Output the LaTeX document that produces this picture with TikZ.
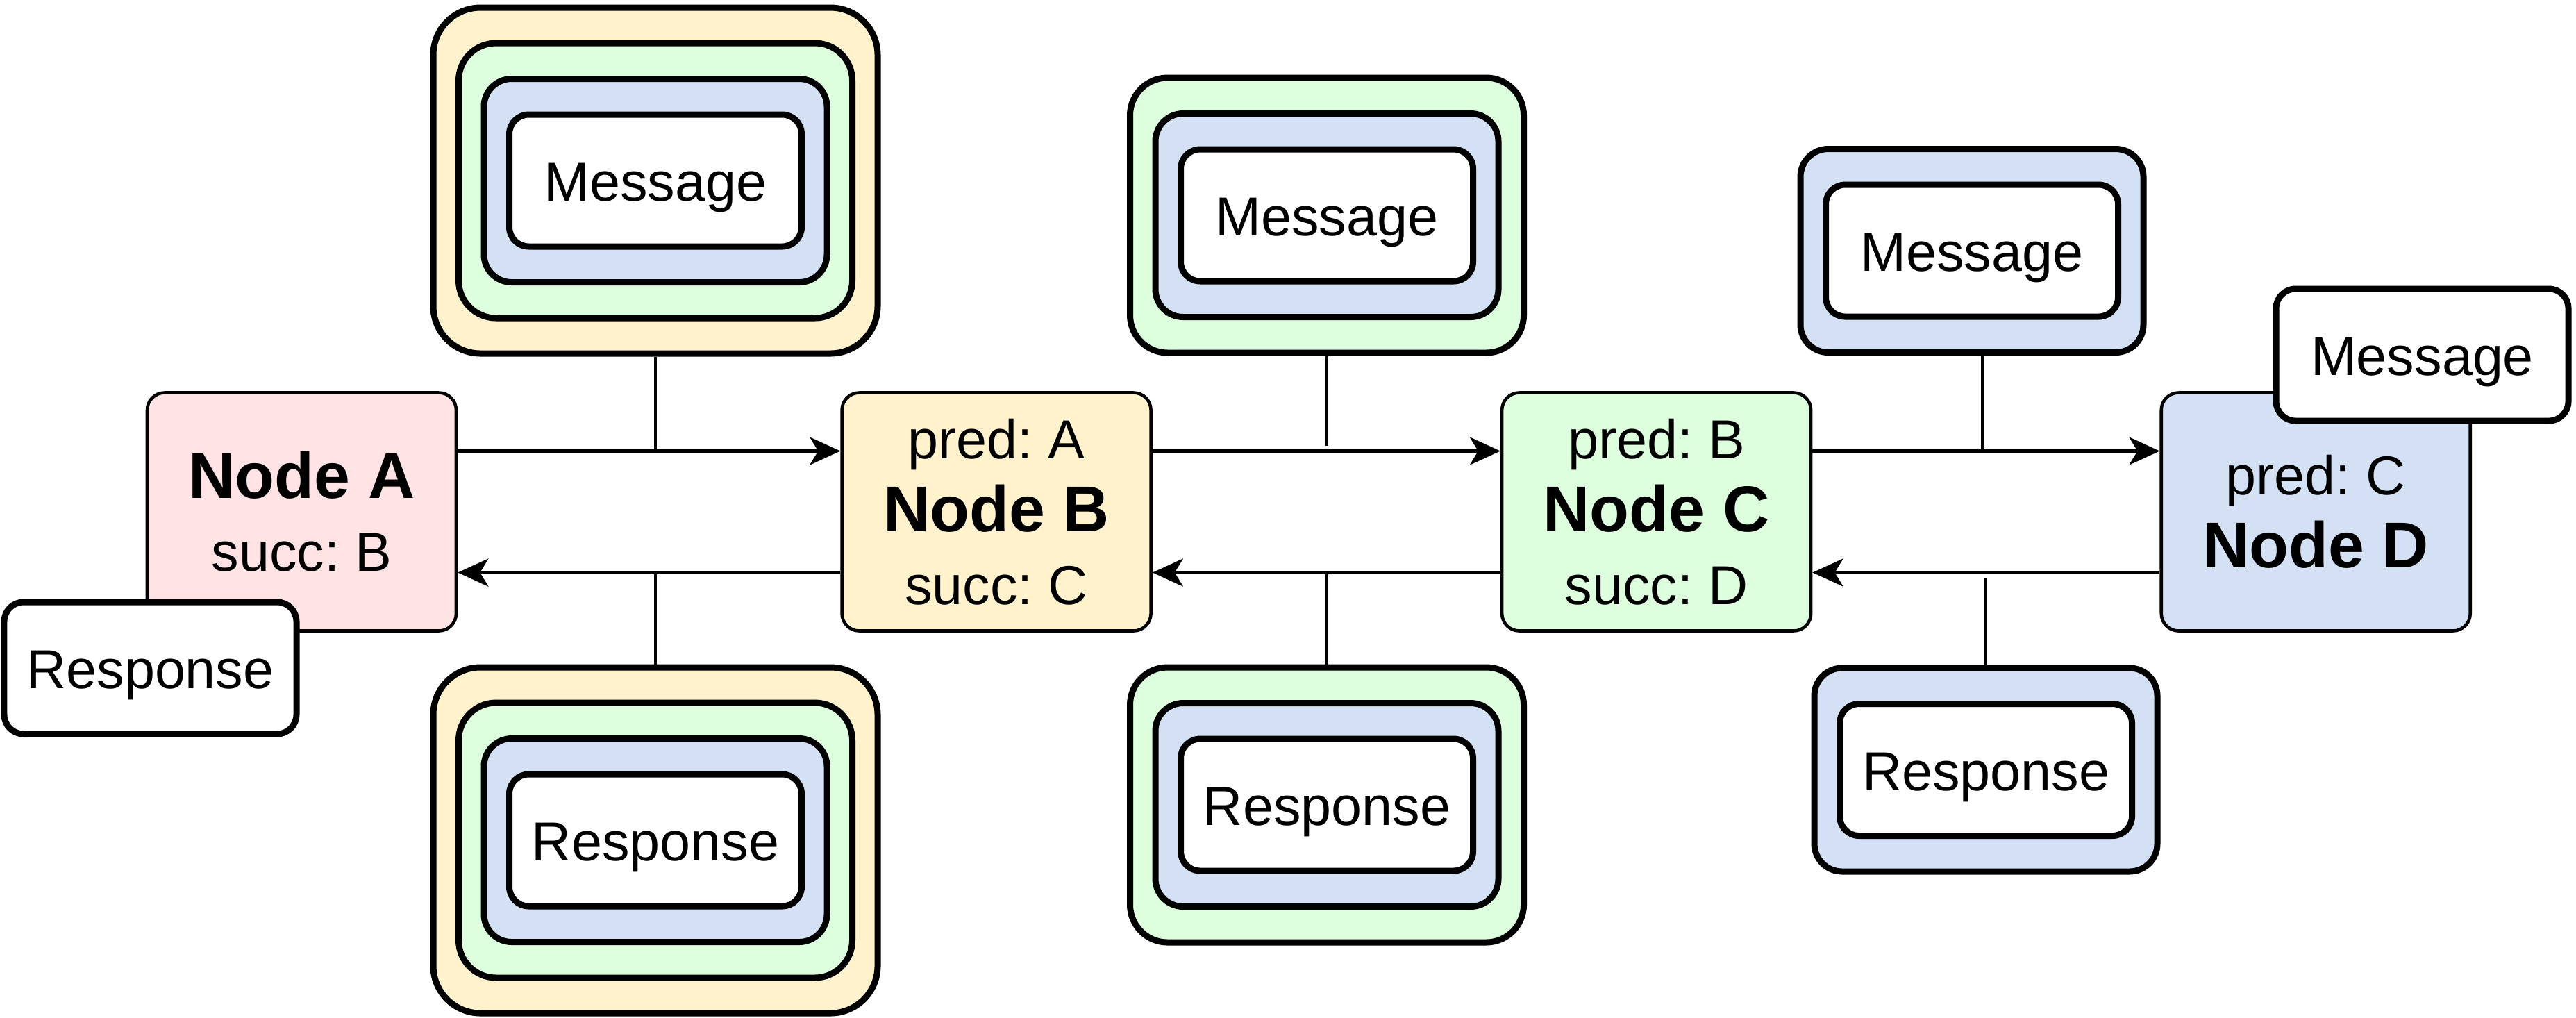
\documentclass[tikz,border=0pt]{standalone}
\usepackage{fontspec}
\setmainfont{Liberation Sans}
\usetikzlibrary{arrows.meta}
\usetikzlibrary{positioning}

\definecolor{fillA}{HTML}{FFE3E5}
\definecolor{fillB}{HTML}{FFF2CC}
\definecolor{fillC}{HTML}{DEFFDE}
\definecolor{fillD}{HTML}{D4E1F5}

\frenchspacing

\begin{document}
\begin{tikzpicture}[
  peer/.style={draw=black, line width=1.3pt, rounded corners=0.25cm, minimum width=4.45cm, minimum height=3.43cm, inner sep=0pt, align=center, font=\fontsize{22.5}{29.9}\selectfont},
  packet/.style={draw=black, line width=2.56pt, fill=white, rounded corners=0.28cm, minimum width=4.21cm, minimum height=1.90cm, inner sep=0pt, text height=22pt, text depth=5pt, font=\fontsize{22.5}{27}\selectfont},
  layer1/.style={draw=black, line width=2.56pt, rounded corners=0.40cm, minimum width=4.94cm, minimum height=2.93cm, inner sep=0pt},
  layer2/.style={draw=black, line width=2.56pt, rounded corners=0.54cm, minimum width=5.67cm, minimum height=3.96cm, inner sep=0pt},
  layer3/.style={draw=black, line width=2.56pt, rounded corners=0.68cm, minimum width=6.40cm, minimum height=4.98cm, inner sep=0pt},
  link/.style={draw=black, line width=1.3pt},
  hop/.style={link, -{Stealth[length=0.44cm, width=0.40cm, inset=0.12cm]}}
]

\useasboundingbox (0,0) rectangle (37.10,-14.65);

%% RING NODES
\node[peer, fill=fillA] (nodeA) at (4.345,-7.37) {{\bfseries\fontsize{26.5}{29.9}\selectfont Node A}\\succ: B};
\node[peer, fill=fillB, right=5.51cm of nodeA] (nodeB) {pred: A\\{\bfseries\fontsize{26.5}{29.9}\selectfont Node B}\\succ: C};
\node[peer, fill=fillC, right=5.01cm of nodeB] (nodeC) {pred: B\\{\bfseries\fontsize{26.5}{29.9}\selectfont Node C}\\succ: D};
\node[peer, fill=fillD, right=5.00cm of nodeC] (nodeD) {pred: C\\{\bfseries\fontsize{26.5}{29.9}\selectfont Node D}};

%% FORWARD AND BACKWARD HOPS
\draw[hop] ([yshift=0.875cm]nodeA.east) coordinate (reqAB) -- ([yshift=0.875cm]nodeB.west);
\draw[hop] ([yshift=0.875cm]nodeB.east) coordinate (reqBC) -- ([yshift=0.875cm]nodeC.west);
\draw[hop] ([yshift=0.875cm]nodeC.east) coordinate (reqCD) -- ([yshift=0.875cm]nodeD.west);

\draw[hop] ([yshift=-0.875cm]nodeB.west) coordinate (rspAB) -- ([yshift=-0.875cm]nodeA.east);
\draw[hop] ([yshift=-0.875cm]nodeC.west) coordinate (rspBC) -- ([yshift=-0.875cm]nodeB.east);
\draw[hop] ([yshift=-0.875cm]nodeD.west) coordinate (rspCD) -- ([yshift=-0.875cm]nodeC.east);

%% MESSAGES
% Message between A and B
\coordinate (mAB) at (9.44,-2.60);
\node[layer3, fill=fillB] (mAB3) at (mAB) {};
\node[layer2, fill=fillC] (mAB2) at (mAB) {};
\node[layer1, fill=fillD] (mAB1) at (mAB) {};
\node[packet] (mAB0) at (mAB) {Message};
\draw[link] (mAB3.south) -- (mAB3.south |- reqAB);

% Message between B and C
\coordinate (mBC) at (19.11,-3.10);
\node[layer2, fill=fillC] (mBC2) at (mBC) {};
\node[layer1, fill=fillD] (mBC1) at (mBC) {};
\node[packet] (mBC0) at (mBC) {Message};
\draw[link, shorten >=0.08cm] (mBC2.south) -- (mBC2.south |- reqBC);

% Message between C and D
\coordinate (mCD) at (28.40,-3.61);
\node[layer1, fill=fillD] (mCD1) at (mCD) {};
\node[packet] (mCD0) at (mCD) {Message};
\coordinate (tapCD) at ([xshift=0.15cm]mCD1.south);
\draw[link] (tapCD) -- (tapCD |- reqCD);

% Message arrived at D
\node[packet] (msgD) at (34.885,-5.11) {Message};

%% RESPONSES
% Response between A and B
\coordinate (rAB) at (9.44,-12.10);
\node[layer3, fill=fillB] (rAB3) at (rAB) {};
\node[layer2, fill=fillC] (rAB2) at (rAB) {};
\node[layer1, fill=fillD] (rAB1) at (rAB) {};
\node[packet] (rAB0) at (rAB) {Response};
\draw[link] (rAB3.north |- rspAB) -- (rAB3.north);

% Response between B and C
\coordinate (rBC) at (19.11,-11.59);
\node[layer2, fill=fillC] (rBC2) at (rBC) {};
\node[layer1, fill=fillD] (rBC1) at (rBC) {};
\node[packet] (rBC0) at (rBC) {Response};
\draw[link] (rBC2.north |- rspBC) -- (rBC2.north);

% Response between C and D
\coordinate (rCD) at (28.60,-11.085);
\node[layer1, fill=fillD] (rCD1) at (rCD) {};
\node[packet] (rCD0) at (rCD) {Response};
\draw[link, shorten <=0.075cm] (rCD1.north |- rspCD) -- (rCD1.north);

% Response arrived at A
\node[packet] (rspA) at (2.165,-9.62) {Response};

\end{tikzpicture}
\end{document}
